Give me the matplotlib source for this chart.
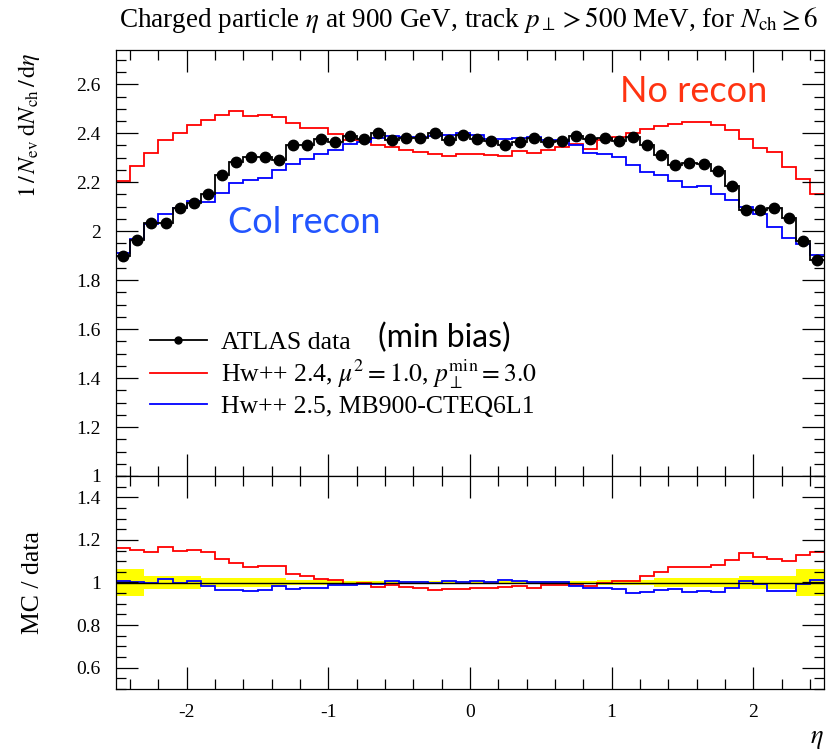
import numpy as np
import matplotlib
matplotlib.use("Agg")
import matplotlib.pyplot as plt
from matplotlib.ticker import MultipleLocator, FuncFormatter
from matplotlib.lines import Line2D

plt.rcParams['font.family'] = ['Liberation Serif', 'DejaVu Serif']
plt.rcParams['mathtext.fontset'] = 'stix'

# ---- data ----
eta_lo, eta_hi, nbins = -2.5, 2.5, 50

atlas = [1.898, 1.962, 2.033, 2.033, 2.093, 2.114, 2.150, 2.230, 2.282, 2.301,
         2.302, 2.291, 2.352, 2.352, 2.378, 2.366, 2.387, 2.378, 2.403, 2.374,
         2.380, 2.381, 2.401, 2.374, 2.392, 2.376, 2.369, 2.352, 2.365, 2.381,
         2.365, 2.370, 2.388, 2.377, 2.381, 2.370, 2.384, 2.351, 2.313, 2.272,
         2.279, 2.275, 2.246, 2.185, 2.086, 2.087, 2.094, 2.052, 1.960, 1.882]

hw24 = [2.203, 2.265, 2.321, 2.373, 2.399, 2.435, 2.454, 2.475, 2.491, 2.471,
        2.475, 2.465, 2.441, 2.423, 2.420, 2.395, 2.371, 2.371, 2.350, 2.344,
        2.333, 2.322, 2.317, 2.306, 2.317, 2.314, 2.311, 2.306, 2.327, 2.320,
        2.333, 2.344, 2.358, 2.337, 2.371, 2.385, 2.401, 2.419, 2.430, 2.439,
        2.445, 2.445, 2.433, 2.415, 2.378, 2.340, 2.325, 2.262, 2.215, 2.151]

hw25 = [1.911, 1.967, 2.030, 2.069, 2.093, 2.125, 2.118, 2.155, 2.197, 2.208,
        2.216, 2.250, 2.276, 2.294, 2.317, 2.333, 2.358, 2.365, 2.382, 2.389,
        2.385, 2.385, 2.390, 2.393, 2.403, 2.393, 2.376, 2.376, 2.382, 2.385,
        2.371, 2.374, 2.354, 2.320, 2.317, 2.301, 2.269, 2.242, 2.229, 2.205,
        2.181, 2.186, 2.151, 2.127, 2.099, 2.069, 2.015, 1.974, 1.947, 1.902]

# relative data uncertainty (half-width of yellow band)
data_relerr = [0.064, 0.064, 0.030, 0.030, 0.030, 0.030, 0.020, 0.020, 0.020, 0.020,
               0.020, 0.020, 0.012, 0.012, 0.012, 0.012, 0.007, 0.007, 0.007, 0.007,
               0.007, 0.007, 0.007, 0.007, 0.007, 0.007, 0.007, 0.007, 0.007, 0.007,
               0.007, 0.007, 0.007, 0.007, 0.012, 0.012, 0.012, 0.012, 0.020, 0.020,
               0.020, 0.020, 0.020, 0.020, 0.030, 0.030, 0.030, 0.030, 0.064, 0.064]

labels = ["ATLAS data",
          r"Hw++ 2.4, $\mu^2 = 1.0$, $p_\perp^{\rm min} = 3.0$",
          "Hw++ 2.5, MB900-CTEQ6L1"]

edges = np.linspace(eta_lo, eta_hi, nbins + 1)
centers = 0.5 * (edges[1:] + edges[:-1])
atlas_a = np.array(atlas)
hw24_a = np.array(hw24)
hw25_a = np.array(hw25)
rel = np.array(data_relerr)

W, H = 828, 752
fig = plt.figure(figsize=(W / 100, H / 100), dpi=100)
L, R = 116, 824
ax1 = fig.add_axes([L / W, 1 - 476 / H, (R - L) / W, (476 - 50) / H])
ax2 = fig.add_axes([L / W, 1 - 689 / H, (R - L) / W, (689 - 476) / H])

lw = 1.3
RED, BLUE = '#ff0000', '#0000ff'

# top panel
ax1.stairs(hw24_a, edges, baseline=None, color=RED, lw=lw)
ax1.stairs(hw25_a, edges, baseline=None, color=BLUE, lw=lw)
ax1.stairs(atlas_a, edges, baseline=None, color='k', lw=lw)
ax1.plot(centers, atlas_a, 'o', color='k', ms=7.5, zorder=5)

ax1.set_xlim(eta_lo, eta_hi)
ax1.set_ylim(1.0, 2.74)

# ratio panel
ax2.stairs(1 + rel, edges, baseline=1 - rel, fill=True, color='#ffff00', lw=0)
ax2.axhline(1.0, color='k', lw=1.0)
ax2.stairs(hw24_a / atlas_a, edges, baseline=None, color=RED, lw=lw)
ax2.stairs(hw25_a / atlas_a, edges, baseline=None, color=BLUE, lw=lw)
ax2.set_xlim(eta_lo, eta_hi)
ax2.set_ylim(0.5, 1.5)

fmt = FuncFormatter(lambda v, p: '%g' % round(v, 3))
for ax in (ax1, ax2):
    ax.xaxis.set_major_locator(MultipleLocator(1.0))
    ax.xaxis.set_minor_locator(MultipleLocator(0.2))
    ax.yaxis.set_major_locator(MultipleLocator(0.2))
    ax.yaxis.set_minor_locator(MultipleLocator(0.05))
    ax.tick_params(which='both', direction='in', top=True, right=True,
                   width=0.9, labelsize=14, pad=11)
    ax.tick_params(which='major', length=15.5)
    ax.tick_params(which='minor', length=7)
    ax.xaxis.set_major_formatter(fmt)
    ax.yaxis.set_major_formatter(fmt)
    for s in ax.spines.values():
        s.set_linewidth(0.9)
ax1.tick_params(labelbottom=False)

# legend
handles = [Line2D([], [], color='k', lw=lw, marker='o', ms=5),
           Line2D([], [], color=RED, lw=lw),
           Line2D([], [], color=BLUE, lw=lw)]
ax1.legend(handles, labels, loc='upper left', bbox_to_anchor=(0.048, 0.34),
           frameon=False, fontsize=18.5, handlelength=2.2, handletextpad=0.55,
           labelspacing=0.15, borderpad=0, borderaxespad=0)

# annotations
ax1.text(1.062, 2.527, "No recon", color='#ff3311', fontsize=26,
         family='Lato', ha='left', va='baseline')
ax1.text(-1.708, 1.992, "Col recon", color='#2255ff', fontsize=26,
         family='Lato', ha='left', va='baseline')
ax1.text(-0.648, 1.527, "(min bias)", color='k', fontsize=23,
         family='Lato', ha='left', va='baseline')

# titles / labels
fig.text(469 / W, 1 - 20 / H,
         r"Charged particle $\eta$ at 900 GeV, track $p_\perp > 500$ MeV, for $N_{\rm ch} \geq 6$",
         ha='center', va='center', fontsize=19.5)
fig.text(29 / W, 1 - 52 / H, r"$1\,/\,N_{\rm ev}\;{\rm d}N_{\rm ch}\,/\,{\rm d}\eta$",
         rotation=90, ha='center', va='top', fontsize=17.5)
fig.text(33 / W, 1 - 582 / H, "MC / data", rotation=90, ha='center', va='center',
         fontsize=18.5)
fig.text(R / W, 1 - 740 / H, r"$\eta$", ha='right', va='center', fontsize=19)

fig.savefig("out.png", dpi=100)
